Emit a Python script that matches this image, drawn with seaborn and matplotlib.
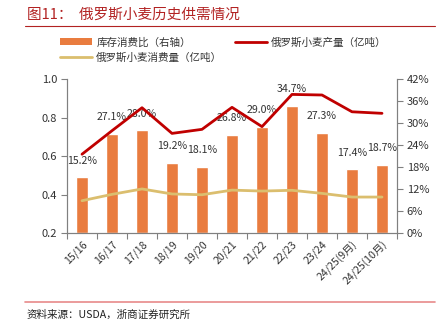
import matplotlib
matplotlib.use("Agg")
import matplotlib.pyplot as plt
import seaborn as sns
import pandas as pd
import numpy as np
from matplotlib.patches import Patch
from matplotlib.lines import Line2D
from matplotlib.ticker import FuncFormatter, FixedLocator

categories = ["15/16", "16/17", "17/18", "18/19", "19/20", "20/21", "21/22",
              "22/23", "23/24", "24/25(9月)", "24/25(10月)"]
stock_ratio = [15.2, 27.1, 28.0, 19.2, 18.1, 26.8, 29.0, 34.7, 27.3, 17.4, 18.7]
production = [0.61, 0.732, 0.851, 0.718, 0.739, 0.853, 0.753, 0.92, 0.917, 0.83, 0.822]
consumption = [0.369, 0.402, 0.43, 0.404, 0.40, 0.424, 0.419, 0.423, 0.407, 0.388, 0.388]

sns.set_theme(style="white")
plt.rcParams['font.family'] = ['Noto Sans CJK SC', 'DejaVu Sans']
plt.rcParams['axes.unicode_minus'] = False

txt = '#333333'
spine_c = '#808080'
bar_c = '#E97C3F'
prod_c = '#C00000'
cons_c = '#DBBE6E'

fig = plt.figure(figsize=(4.42, 3.26), dpi=100)
ax = fig.add_axes([0.1516, 0.2843, 0.7466, 0.4734])

df = pd.DataFrame({"cat": categories, "ratio": stock_ratio,
                   "prod": production, "cons": consumption,
                   "pos": np.arange(len(categories))})

sns.barplot(data=df, x="cat", y="ratio", color=bar_c, width=0.4,
            saturation=1, ax=ax, order=categories)
ax.set_xlabel("")
ax.set_ylabel("")

for i, v in enumerate(stock_ratio):
    ax.annotate(f"{v:.1f}%", (i, v), xytext=(0, 12), textcoords="offset points",
                ha="center", va="center", fontsize=7.6, color=txt)

ax2 = ax.twinx()
sns.lineplot(data=df, x="pos", y="prod", color=prod_c, lw=2.0, ax=ax2)
sns.lineplot(data=df, x="pos", y="cons", color=cons_c, lw=2.0, ax=ax2)
ax2.set_xlabel("")
ax2.set_ylabel("")

# right axis (bars)
ax.set_ylim(0, 42)
ax.set_xlim(-0.5, len(categories) - 0.5)
ax.set_yticks(np.arange(0, 43, 6))
ax.yaxis.set_major_formatter(FuncFormatter(lambda v, p: f"{int(round(v))}%"))
ax.tick_params(axis="y", left=False, labelleft=False, right=True, labelright=True)

# left axis (lines)
ax2.set_ylim(0.2, 1.0)
ax2.set_xlim(-0.5, len(categories) - 0.5)
ax2.set_yticks([0.2, 0.4, 0.6, 0.8, 1.0])
ax2.yaxis.set_major_formatter(FuncFormatter(lambda v, p: f"{v:.1f}"))
ax2.tick_params(axis="y", left=True, labelleft=True, right=False, labelright=False)

# x ticks: labels at centers, tick marks at boundaries
ax.set_xticks(np.arange(len(categories)))
ax.set_xticklabels(categories, rotation=45, ha="right", rotation_mode="anchor",
                   fontsize=7.6, color=txt)
ax.tick_params(axis="x", length=0, pad=4)
ax.xaxis.set_minor_locator(FixedLocator(np.arange(-0.5, len(categories), 1)))
ax.tick_params(axis="x", which="minor", length=4, color=spine_c, width=0.8,
               direction="out", bottom=True)
ax2.xaxis.set_visible(False)

for a in (ax, ax2):
    a.spines["top"].set_visible(False)
    for s in ("left", "right", "bottom"):
        a.spines[s].set_color(spine_c)
        a.spines[s].set_linewidth(0.8)
    a.tick_params(axis="y", length=4, color=spine_c, width=0.8, direction="out",
                  labelsize=8, labelcolor=txt, pad=3)
    a.grid(False)

# legend
handles = [Patch(facecolor=bar_c, edgecolor="none"),
           Line2D([0], [0], color=cons_c, lw=2),
           Line2D([0], [0], color=prod_c, lw=2)]
labels = ["库存消费比（右轴）", "俄罗斯小麦消费量（亿吨）", "俄罗斯小麦产量（亿吨）"]
fig.legend(handles, labels, ncol=2, loc="upper left",
           bbox_to_anchor=(0.115, 0.915), frameon=False, fontsize=7.6,
           handlelength=3.0, handleheight=0.6, columnspacing=1.2,
           labelspacing=0.45, handletextpad=0.4, labelcolor=txt)

# title and rules
fig.text(0.06, 0.955, "图11：  俄罗斯小麦历史供需情况", fontsize=10.5,
         color="#B22222", ha="left", va="center")
fig.add_artist(Line2D([0.057, 0.985], [0.92, 0.92], color="#B22222", lw=0.8,
                      transform=fig.transFigure))
fig.add_artist(Line2D([0.057, 0.985], [0.075, 0.075], color="#E88A8A", lw=1.2,
                      transform=fig.transFigure))
fig.text(0.06, 0.033, "资料来源：USDA，浙商证券研究所", fontsize=7.6,
         color="#222222", ha="left", va="center")

fig.savefig("out.png", dpi=100)
